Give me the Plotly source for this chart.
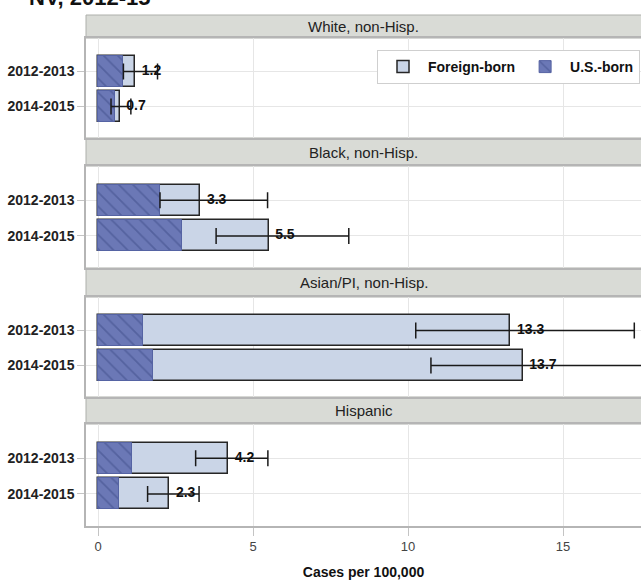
import plotly.graph_objects as go

# TB case rates by race/ethnicity and nativity, two-year periods
periods = ["2012-2013", "2014-2015"]
groups = ["White, non-Hisp.", "Black, non-Hisp.", "Asian/PI, non-Hisp.", "Hispanic"]

total_rate = {
    "White, non-Hisp.": [1.2, 0.7],
    "Black, non-Hisp.": [3.3, 5.5],
    "Asian/PI, non-Hisp.": [13.3, 13.7],
    "Hispanic": [4.2, 2.3],
}
us_born_rate = {
    "White, non-Hisp.": [0.82, 0.55],
    "Black, non-Hisp.": [2.0, 2.7],
    "Asian/PI, non-Hisp.": [1.46, 1.77],
    "Hispanic": [1.11, 0.67],
}
ci_low = {
    "White, non-Hisp.": [0.82, 0.42],
    "Black, non-Hisp.": [2.0, 3.81],
    "Asian/PI, non-Hisp.": [10.25, 10.74],
    "Hispanic": [3.15, 1.6],
}
ci_high = {
    "White, non-Hisp.": [1.92, 1.06],
    "Black, non-Hisp.": [5.47, 8.09],
    "Asian/PI, non-Hisp.": [17.3, 17.8],
    "Hispanic": [5.48, 3.26],
}
x_ticks = [0, 5, 10, 15]

W, H = 641, 581
M_L, M_B = 86, 55
PAPER_H = H - M_B
FONT = "Liberation Sans, Arial, sans-serif"

# panel geometry in page pixels (top of header, top of plot, bottom of plot)
header_top = [15, 138, 268, 397]
plot_top = [38, 166, 297, 424]
plot_bot = [138, 268, 397, 526]


def py(p):
    return (PAPER_H - p) / PAPER_H


ypos = [0, 1]
fig = go.Figure()
layout = dict(
    width=W, height=H,
    margin=dict(l=M_L, r=0, t=0, b=M_B),
    paper_bgcolor="white", plot_bgcolor="white",
    barmode="overlay", bargap=0,
    showlegend=True,
    font=dict(family=FONT, color="#222"),
)
shapes, annotations = [], []

for k, g in enumerate(groups):
    sfx = "" if k == 0 else str(k + 1)
    xa, ya = "x" + sfx, "y" + sfx
    tot = total_rate[g]
    us = us_born_rate[g]
    lo = ci_low[g]
    hi = ci_high[g]

    fig.add_trace(go.Bar(
        x=tot, y=ypos, orientation="h", width=0.87,
        name="Foreign-born", legendgroup="fb", showlegend=(k == 0),
        marker=dict(color="#cad5e7", line=dict(color="#262626", width=1.5)),
        xaxis=xa, yaxis=ya, hoverinfo="skip",
    ))
    fig.add_trace(go.Bar(
        x=us, y=ypos, orientation="h", width=0.87,
        name="U.S.-born", legendgroup="us", showlegend=(k == 0),
        marker=dict(color="#6b78b6", line=dict(color="#5563a3", width=1),
                    pattern=dict(shape="\\", fgcolor="#3e4b87", bgcolor="#6b78b6",
                                 size=10, solidity=0.18)),
        xaxis=xa, yaxis=ya, hoverinfo="skip",
    ))
    fig.add_trace(go.Scatter(
        x=tot, y=ypos, mode="markers",
        marker=dict(size=1, color="rgba(0,0,0,0)"),
        error_x=dict(type="data", symmetric=False,
                     array=[h - t for h, t in zip(hi, tot)],
                     arrayminus=[t - l for t, l in zip(tot, lo)],
                     color="#1a1a1a", thickness=1.5, width=8),
        showlegend=False, xaxis=xa, yaxis=ya, hoverinfo="skip",
    ))
    fig.add_trace(go.Scatter(
        x=tot, y=ypos, mode="markers+text", text=[f"{v:.1f}" for v in tot],
        textposition="middle right",
        marker=dict(size=9, color="rgba(0,0,0,0)"),
        textfont=dict(family=FONT, size=14, color="#111", weight="bold"),
        showlegend=False, xaxis=xa, yaxis=ya, hoverinfo="skip",
    ))

    dom = [py(plot_bot[k]), py(plot_top[k])]
    last = k == len(groups) - 1
    layout["xaxis" + sfx] = dict(
        domain=[0, 1], anchor=ya, range=[-0.387, 17.516],
        tickvals=x_ticks, showticklabels=last,
        ticks="outside" if last else "", ticklen=8, tickcolor="#c4c4c4",
        tickfont=dict(family="Liberation Sans Narrow, " + FONT, size=13, color="#444"),
        showgrid=True, gridcolor="#e6e6e6", gridwidth=1, zeroline=False,
        showline=True, mirror=True, linecolor="#b5b5b5", linewidth=1.5,
        **({"matches": "x"} if k else {}),
        **({"title": dict(text="<b>Cases per 100,000</b>", standoff=14,
                          font=dict(family=FONT, size=14, color="#111"))} if last else {}),
    )
    layout["yaxis" + sfx] = dict(
        domain=dom, anchor=xa, range=[1.9, -0.96],
        tickvals=ypos, ticktext=periods,
        ticks="outside", ticklen=7, tickcolor="#c4c4c4",
        tickfont=dict(family=FONT, size=14, color="#222", weight="bold"),
        showgrid=True, gridcolor="#e6e6e6", zeroline=False,
        showline=True, mirror=False, linecolor="#b5b5b5", linewidth=1.5,
    )

    # panel header strip
    shapes.append(dict(type="rect", xref="paper", yref="paper",
                       x0=0, x1=1.01, y0=py(plot_top[k]), y1=py(header_top[k]),
                       fillcolor="#d9dbd6", line=dict(color="#aeb0ab", width=1),
                       layer="below"))
    annotations.append(dict(xref="paper", yref="paper", x=0.5,
                            y=(py(plot_top[k]) + py(header_top[k])) / 2,
                            text=g, showarrow=False, xanchor="center", yanchor="middle",
                            font=dict(family=FONT, size=15, color="#222")))

annotations.append(dict(xref="paper", yref="paper", x=(27 - M_L) / (W - M_L),
                        y=py(12), xanchor="left", yanchor="bottom", showarrow=False,
                        text="<b>NV, 2012-15</b>",
                        font=dict(family=FONT, size=22, color="#111")))

layout["shapes"] = shapes
layout["annotations"] = annotations
layout["legend"] = dict(
    orientation="h", x=(377 - M_L) / (W - M_L), y=py(50),
    xanchor="left", yanchor="top",
    bgcolor="white", bordercolor="#cfcfcf", borderwidth=1,
    font=dict(family=FONT, size=14, color="#111", weight="bold"),
    itemwidth=40, traceorder="normal",
)
fig.update_layout(**layout)
fig.write_html("out.html")
